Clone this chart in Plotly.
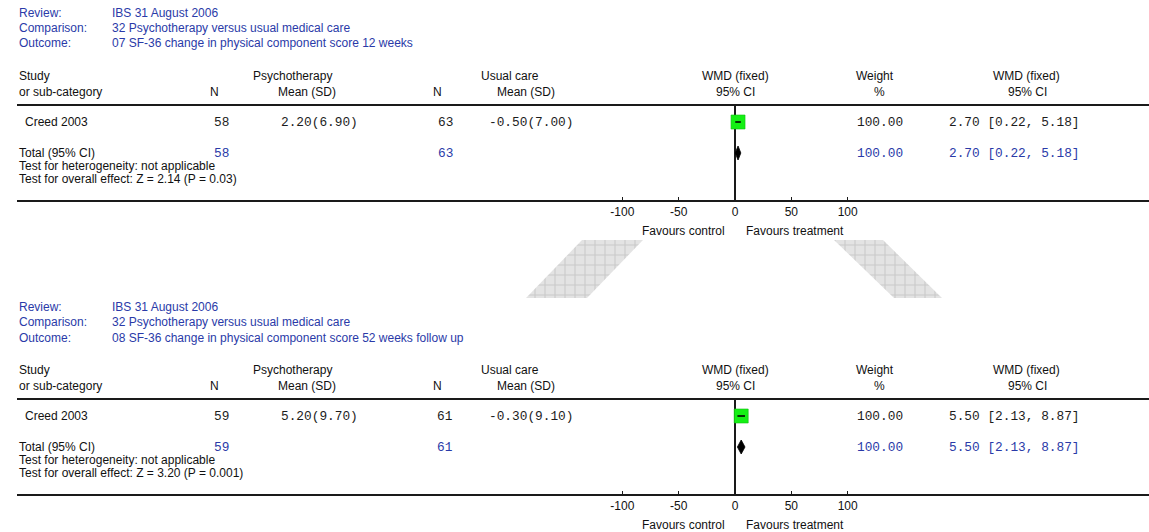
import plotly.graph_objects as go

# ---------------------------------------------------------------- data
review_name = "IBS 31 August 2006"
comparison_name = "32 Psychotherapy versus usual medical care"
outcome_names = [
    "07 SF-36 change in physical component score 12 weeks",
    "08 SF-36 change in physical component score 52 weeks follow up",
]
study_names = ["Creed 2003", "Creed 2003"]

psy_n = [58, 59]
psy_mean = [2.20, 5.20]
psy_sd = [6.90, 9.70]
usual_n = [63, 61]
usual_mean = [-0.50, -0.30]
usual_sd = [7.00, 9.10]
weight_pct = [100.00, 100.00]
wmd = [2.70, 5.50]
ci_low = [0.22, 2.13]
ci_high = [5.18, 8.87]
z_stat = [2.14, 3.20]
p_value = ["0.03", "0.001"]
heterogeneity = ["not applicable", "not applicable"]

tick_values = [-100, -50, 0, 50, 100]
favours_left = "Favours control"
favours_right = "Favours treatment"

# ---------------------------------------------------------------- styling / geometry
W, H = 1149, 532
SANS = "Arial, Liberation Sans, sans-serif"
MONO = "Courier New, Liberation Mono, monospace"
BLUE = "#2a3aa8"
INK = "#111111"
NUM_INK = "#1c1c1c"
LINE = "#1a1a1a"

PANEL_OFFSET = [0, 294]          # vertical shift of each panel (px)
ZERO_PX = 735                    # screen x of the null line
PX_PER_UNIT = 56.33 / 50         # forest scale
LEFT_PX = 17                     # left edge of the table rules
TOP_RULE, AXIS_RULE = 106, 200   # rule lines of the first panel
FIRST_ROW_PX, ROW_PITCH = 122, 31
DIAMOND_HALF = 7 / ROW_PITCH

x_range = [(LEFT_PX - ZERO_PX) / PX_PER_UNIT, (W - ZERO_PX) / PX_PER_UNIT]
r_top = -(FIRST_ROW_PX - TOP_RULE) / ROW_PITCH
r_bottom = r_top + (AXIS_RULE - TOP_RULE) / ROW_PITCH


def px_x(x):
    return x / W


def px_y(y):
    return 1 - y / H


annotations = []


def label(text, x, y, anchor="left", family=SANS, size=12, color=INK):
    annotations.append(dict(
        text=text, x=px_x(x), y=px_y(y), xref="paper", yref="paper",
        xanchor=anchor, yanchor="middle", showarrow=False,
        font=dict(family=family, size=size, color=color)))


fig = go.Figure()
layout_axes = {}

for i, off in enumerate(PANEL_OFFSET):
    ax = i + 1
    xa, ya = f"x{ax if ax > 1 else ''}", f"y{ax if ax > 1 else ''}"
    xkey, ykey = f"xaxis{ax if ax > 1 else ''}", f"yaxis{ax if ax > 1 else ''}"

    # study estimate: green box with its confidence interval
    fig.add_trace(go.Scatter(
        x=[wmd[i]], y=[0], mode="markers", xaxis=xa, yaxis=ya,
        marker=dict(symbol="square", size=14, color="#14f014",
                    line=dict(color="#10c010", width=0.6)),
        showlegend=False, hoverinfo="skip"))
    fig.add_trace(go.Scatter(
        x=[ci_low[i], ci_high[i]], y=[0, 0], mode="lines", xaxis=xa, yaxis=ya,
        line=dict(color="#000000", width=1.6),
        showlegend=False, hoverinfo="skip"))
    # pooled estimate: diamond
    fig.add_trace(go.Scatter(
        x=[ci_low[i], wmd[i], ci_high[i], wmd[i], ci_low[i]],
        y=[1, 1 - DIAMOND_HALF, 1, 1 + DIAMOND_HALF, 1],
        mode="lines", fill="toself", fillcolor="#000000", xaxis=xa, yaxis=ya,
        line=dict(color="#000000", width=0.8),
        showlegend=False, hoverinfo="skip"))

    layout_axes[xkey] = dict(
        domain=[LEFT_PX / W, 1], range=x_range, anchor=ya,
        showgrid=False, zeroline=True, zerolinecolor=LINE, zerolinewidth=1.5,
        showline=True, linecolor=LINE, linewidth=1.6, mirror=True,
        ticks="inside", ticklen=3, tickwidth=1.2, tickcolor=LINE,
        tickvals=tick_values, ticktext=[str(v) for v in tick_values],
        tickfont=dict(family=SANS, size=12, color=INK),
        fixedrange=True)
    layout_axes[ykey] = dict(
        domain=[px_y(AXIS_RULE + off), px_y(TOP_RULE + off)],
        range=[r_bottom, r_top], anchor=xa,
        showgrid=False, zeroline=False, showline=False,
        showticklabels=False, ticks="", fixedrange=True)

    # heading block
    label("Review:", 17, 12.5 + off, color=BLUE)
    label("Comparison:", 17, 28 + off, color=BLUE)
    label("Outcome:", 17, 43.5 + off, color=BLUE)
    label(review_name, 110, 12.5 + off, color=BLUE)
    label(comparison_name, 110, 28 + off, color=BLUE)
    label(outcome_names[i], 110, 43.5 + off, color=BLUE)

    # column headers
    label("Study", 17, 76 + off)
    label("or sub-category", 17, 91.5 + off)
    label("N", 214, 91.5 + off, "center")
    label("Psychotherapy", 292, 76 + off, "center")
    label("Mean (SD)", 307, 91.5 + off, "center")
    label("N", 437, 91.5 + off, "center")
    label("Usual care", 510, 76 + off, "center")
    label("Mean (SD)", 526, 91.5 + off, "center")
    label("WMD (fixed)", 735, 76 + off, "center")
    label("95% CI", 735, 91.5 + off, "center")
    label("Weight", 875, 76 + off, "center")
    label("%", 879, 91.5 + off, "center")
    label("WMD (fixed)", 1026, 76 + off, "center")
    label("95% CI", 1027, 91.5 + off, "center")

    ci_text = f"{wmd[i]:.2f} [{ci_low[i]:.2f}, {ci_high[i]:.2f}]"

    # study row
    row_y = FIRST_ROW_PX + off
    label(study_names[i], 23, row_y)
    label(str(psy_n[i]), 221, row_y, "center", MONO, 12.8, NUM_INK)
    label(f"{psy_mean[i]:.2f}({psy_sd[i]:.2f})", 279, row_y, "left", MONO, 12.8, NUM_INK)
    label(str(usual_n[i]), 445, row_y, "center", MONO, 12.8, NUM_INK)
    label(f"{usual_mean[i]:.2f}({usual_sd[i]:.2f})", 487, row_y, "left", MONO, 12.8, NUM_INK)
    label(f"{weight_pct[i]:.2f}", 855, row_y, "left", MONO, 12.8, NUM_INK)
    label(ci_text, 947, row_y, "left", MONO, 12.8, NUM_INK)

    # total row
    tot_y = FIRST_ROW_PX + ROW_PITCH + off
    label("Total (95% CI)", 17, tot_y)
    label(str(psy_n[i]), 221, tot_y, "center", MONO, 12.8, BLUE)
    label(str(usual_n[i]), 445, tot_y, "center", MONO, 12.8, BLUE)
    label(f"{weight_pct[i]:.2f}", 855, tot_y, "left", MONO, 12.8, BLUE)
    label(ci_text, 947, tot_y, "left", MONO, 12.8, BLUE)
    label(f"Test for heterogeneity: {heterogeneity[i]}", 17, 165.7 + off)
    label(f"Test for overall effect: Z = {z_stat[i]:.2f} (P = {p_value[i]})", 17, 179 + off)

    # favours captions under the axis
    label(favours_left, 727, 231 + off, "right")
    label(favours_right, 744, 231 + off, "left")

# hatched connector wedges between the two panels (pixel space overlay)
WEDGES = [
    [(582, 240), (643, 240), (587, 298), (526, 298)],
    [(834, 240), (883, 240), (942, 298), (894, 298)],
]
for wedge in WEDGES:
    xs = [p[0] for p in wedge] + [wedge[0][0]]
    ys = [p[1] for p in wedge] + [wedge[0][1]]
    fig.add_trace(go.Scatter(
        x=xs, y=ys, mode="lines", fill="toself", xaxis="x3", yaxis="y3",
        line=dict(width=0, color="rgba(0,0,0,0)"),
        fillcolor="#e3e3e3",
        fillpattern=dict(shape="+", size=10, solidity=0.2,
                         fgcolor="#c9c9c9", bgcolor="#e3e3e3", fillmode="replace"),
        showlegend=False, hoverinfo="skip"))

layout_axes["xaxis3"] = dict(domain=[0, 1], range=[0, W], visible=False,
                             anchor="y3", fixedrange=True)
layout_axes["yaxis3"] = dict(domain=[0, 1], range=[H, 0], visible=False,
                             anchor="x3", fixedrange=True)

fig.update_layout(
    width=W, height=H,
    margin=dict(l=0, r=0, t=0, b=0),
    paper_bgcolor="#ffffff", plot_bgcolor="rgba(0,0,0,0)",
    showlegend=False,
    annotations=annotations,
    **layout_axes,
)

fig.write_html("out.html")
